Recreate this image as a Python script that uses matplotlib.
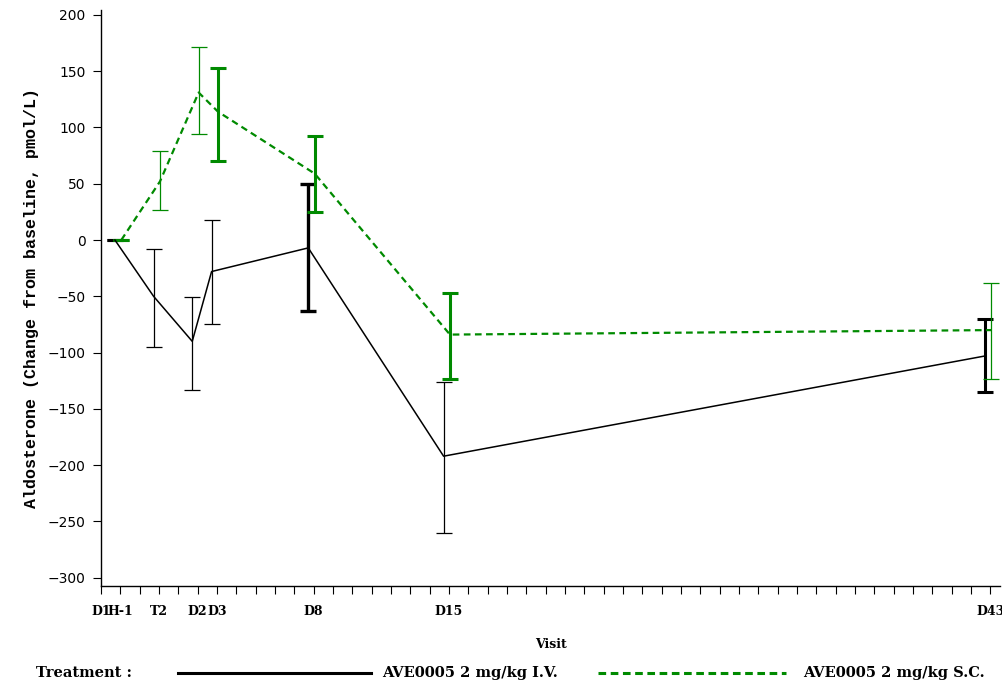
import numpy as np
import matplotlib
matplotlib.use("Agg")
from matplotlib import pyplot as plt
from matplotlib.lines import Line2D

# visit labels and their tick positions on the axis
visits = ["D1", "H-1", "T2", "D2", "D3", "D8", "D15", "D43"]
visit_pos = [0, 1, 3, 5, 6, 11, 18, 46]

# data visits (H-1 onward)
pt_visits = ["H-1", "T2", "D2", "D3", "D8", "D15", "D43"]
pt_pos = [1, 3, 5, 6, 11, 18, 46]

iv_mean = [0, -50, -90, -28, -7, -192, -103]
iv_low = [0, -95, -133, -75, -63, -260, -135]
iv_high = [0, -8, -51, 18, 50, -126, -70]

sc_mean = [0, 52, 131, 114, 59, -84, -80]
sc_low = [0, 27, 94, 70, 25, -123, -123]
sc_high = [0, 79, 171, 153, 92, -47, -38]

# rendering weight of each error bar in the original (thin/thick)
iv_bar_w = [2.2, 0.9, 0.9, 0.9, 2.4, 0.9, 2.2]
sc_bar_w = [2.2, 0.9, 0.9, 2.2, 2.2, 2.2, 0.9]

green = "#008a00"
serif = "DejaVu Serif"

fig = plt.figure(figsize=(10.03, 6.86), dpi=100)
ax = fig.add_axes([101/1003, 1-586/686, 899/1003, 576/686])

x_iv = np.array(pt_pos) - 0.28
x_sc = np.array(pt_pos) + 0.05

ax.plot(x_iv, iv_mean, color="black", lw=1.1, zorder=3)
ax.plot(x_sc, sc_mean, color=green, lw=1.6, dashes=(3, 2), zorder=3)

for i in range(len(pt_pos)):
    ax.errorbar(x_iv[i], iv_mean[i],
                yerr=[[iv_mean[i]-iv_low[i]], [iv_high[i]-iv_mean[i]]],
                fmt="none", ecolor="black", elinewidth=iv_bar_w[i],
                capsize=5.8, capthick=iv_bar_w[i], zorder=2)
    ax.errorbar(x_sc[i], sc_mean[i],
                yerr=[[sc_mean[i]-sc_low[i]], [sc_high[i]-sc_mean[i]]],
                fmt="none", ecolor=green, elinewidth=sc_bar_w[i],
                capsize=5.8, capthick=sc_bar_w[i], zorder=2)

ax.set_xlim(0, 46.5)
ax.set_ylim(-307.3, 204.3)
ax.set_yticks(np.arange(-300, 201, 50))
ax.set_xticks(np.arange(0, 47, 1), minor=True)
ax.set_xticks(visit_pos)
ax.set_xticklabels(visits, fontfamily=serif, fontweight="bold", fontsize=9)
ax.tick_params(axis="x", which="both", direction="out", length=6, width=0.8, pad=8)
ax.tick_params(axis="y", direction="out", length=6, width=0.8, labelsize=10, pad=5)
for lab in ax.get_yticklabels():
    lab.set_fontfamily("DejaVu Sans")

for s in ["top", "right"]:
    ax.spines[s].set_visible(False)
for s in ["left", "bottom"]:
    ax.spines[s].set_linewidth(1.0)

ax.set_ylabel("Aldosterone (Change from baseline, pmol/L)", fontfamily="Liberation Mono",
              fontweight="bold", fontsize=12, labelpad=6)
ax.set_xlabel("Visit", fontfamily=serif, fontweight="bold", fontsize=9, labelpad=14)

# legend row
ly = 1 - 673/686
fig.text(36/1003, ly, "Treatment :", fontfamily=serif, fontweight="bold",
         fontsize=10.5, va="center")
fig.add_artist(Line2D([178/1003, 371/1003], [ly, ly], color="black", lw=2.2))
fig.text(382/1003, ly, "AVE0005 2 mg/kg I.V.", fontfamily=serif, fontweight="bold",
         fontsize=10.5, va="center")
fig.add_artist(Line2D([598/1003, 786/1003], [ly, ly], color=green, lw=2.2, dashes=(2.5, 1.5)))
fig.text(803/1003, ly, "AVE0005 2 mg/kg S.C.", fontfamily=serif, fontweight="bold",
         fontsize=10.5, va="center")

fig.savefig("out.png", dpi=100)
